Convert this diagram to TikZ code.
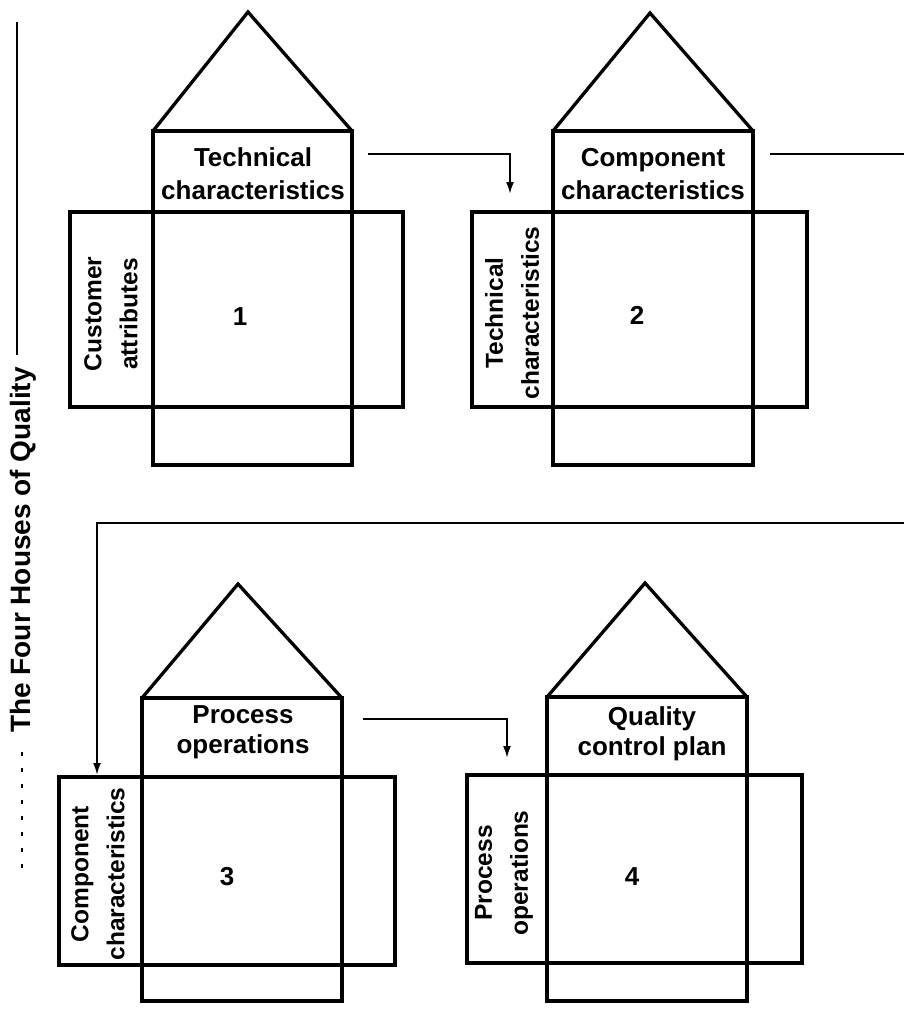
\documentclass[tikz,border=0pt]{standalone}
\usepackage{fontspec}
\setmainfont{Liberation Sans}
\usetikzlibrary{arrows.meta}
\begin{document}
\begin{tikzpicture}[x=1pt,y=-1pt,
  frame/.style={draw, line width=3.3pt, rectangle, inner sep=0pt, outer sep=0pt},
  roof/.style={draw, line width=3.3pt, line join=miter},
  conn/.style={line width=2pt},
  tip/.style={-{Latex[length=12pt,width=8pt]}},
  hdr/.style={align=center, inner sep=0pt, font=\bfseries\fontsize{26}{33}\selectfont},
  hdrb/.style={align=center, inner sep=0pt, font=\bfseries\fontsize{26}{30}\selectfont},
  side/.style={align=center, inner sep=0pt, rotate=90, font=\bfseries\fontsize{24.5}{36}\selectfont},
  num/.style={inner sep=0pt, font=\bfseries\fontsize{26}{30}\selectfont},
  title/.style={inner sep=0pt, rotate=90, font=\bfseries\fontsize{28}{32}\selectfont}]

\useasboundingbox[fill=white] (0,0) rectangle (904,1022);

% ---- title and its rule ----
\node[title] (ttl) at (23,550) {The Four Houses of Quality};
\coordinate (ruletop) at (17,22);
\coordinate (rulebot) at (17,355);
\draw[line width=2.2pt] (ruletop) -- (rulebot);
\coordinate (dottop) at (22,752);
\coordinate (dotbot) at (22,870);
\draw[line width=2pt, dash pattern=on 4pt off 12pt] (dottop) -- (dotbot);

% ---- house 1 ----
\node[frame, anchor=north west, minimum width=333pt, minimum height=195pt] (wide1) at (70,212) {};
\node[frame, anchor=north west, minimum width=199pt, minimum height=334pt] (tall1) at (153,131) {};
\coordinate (apex1) at (248,12);
\draw[roof] (tall1.north west) -- (apex1) -- (tall1.north east);
\node[hdr] (hd1) at (253,174) {Technical\\characteristics};
\node[side] (sd1) at (111,314) {Customer\\attributes};
\node[num] (n1) at (240,317) {1};

% ---- house 2 ----
\node[frame, anchor=north west, minimum width=335pt, minimum height=195pt] (wide2) at (472,212) {};
\node[frame, anchor=north west, minimum width=200pt, minimum height=334pt] (tall2) at (553,131) {};
\coordinate (apex2) at (650,13);
\draw[roof] (tall2.north west) -- (apex2) -- (tall2.north east);
\node[hdr] (hd2) at (653,174) {Component\\characteristics};
\node[side] (sd2) at (512,313) {Technical\\characteristics};
\node[num] (n2) at (637,315) {2};

% ---- house 3 ----
\node[frame, anchor=north west, minimum width=336pt, minimum height=188pt] (wide3) at (59,777) {};
\node[frame, anchor=north west, minimum width=200pt, minimum height=303pt] (tall3) at (142,698) {};
\coordinate (apex3) at (238,584);
\draw[roof] (tall3.north west) -- (apex3) -- (tall3.north east);
\node[hdrb] (hd3) at (243,732) {Process\\operations};
\node[side] (sd3) at (98,874) {Component\\characteristics};
\node[num] (n3) at (227,877) {3};

% ---- house 4 ----
\node[frame, anchor=north west, minimum width=335pt, minimum height=188pt] (wide4) at (467,775) {};
\node[frame, anchor=north west, minimum width=200pt, minimum height=304pt] (tall4) at (547,697) {};
\coordinate (apex4) at (645,583);
\draw[roof] (tall4.north west) -- (apex4) -- (tall4.north east);
\node[hdrb] (hd4) at (652,734) {Quality\\control plan};
\node[side] (sd4) at (504,873) {Process\\operations};
\node[num] (n4) at (632,877) {4};

% ---- connectors ----
\coordinate (c12s) at (368,154);
\coordinate (c12e) at (510,194);
\draw[conn, tip] (c12s) -| (c12e);

\coordinate (c2s) at (770,154);
\coordinate (c2e) at (904,154);
\draw[conn] (c2s) -- (c2e);

\coordinate (c3s) at (904,523);
\coordinate (c3e) at (97,775);
\draw[conn, tip] (c3s) -| (c3e);

\coordinate (c34s) at (363,719);
\coordinate (c34e) at (507,758);
\draw[conn, tip] (c34s) -| (c34e);
\end{tikzpicture}
\end{document}
